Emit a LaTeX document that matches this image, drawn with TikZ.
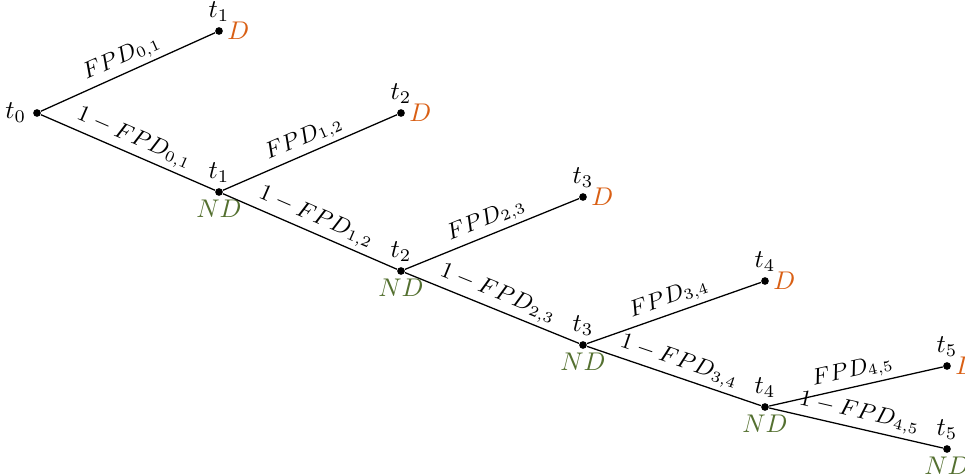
\documentclass[tikz,border=0pt]{standalone}
\usetikzlibrary{positioning}
\definecolor{dorange}{RGB}{217,95,20}
\definecolor{dgreen}{RGB}{84,112,48}
\begin{document}
\begin{tikzpicture}[x=0.3908pt,y=-0.3908pt,
  dot/.style={circle,fill=black,inner sep=0pt,minimum size=3pt},
  tl/.style={label={[label distance=-1.5pt]above:$t_{#1}$}},
  dl/.style={label={[label distance=-2pt,text=dorange]right:$D$}},
  ndl/.style={label={[label distance=-2pt,text=dgreen]below:$ND$}},
  edge/.style={draw,line width=0.5pt},
  elab/.style={midway,sloped,above,inner sep=1.5pt,font=\small}]
\useasboundingbox (0,0) rectangle (965,476);
\node[dot,label={[label distance=-1pt]left:$t_0$}] (n0) at (37,113) {};
\node[dot,tl=1,dl] (d1) at (219,31) {};
\node[dot,tl=1,ndl] (n1) at (219,192) {};
\node[dot,tl=2,dl] (d2) at (401,113) {};
\node[dot,tl=2,ndl] (n2) at (401,271) {};
\node[dot,tl=3,dl] (d3) at (583,197) {};
\node[dot,tl=3,ndl] (n3) at (583,345) {};
\node[dot,tl=4,dl] (d4) at (765,281) {};
\node[dot,tl=4,ndl] (n4) at (765,407) {};
\node[dot,tl=5,dl] (d5) at (947,366) {};
\node[dot,tl=5,ndl] (n5) at (947,449) {};
\path[edge] (n0) -- node[elab] {$FPD_{0,1}$} (d1);
\path[edge] (n0) -- node[elab] {$1-FPD_{0,1}$} (n1);
\path[edge] (n1) -- node[elab] {$FPD_{1,2}$} (d2);
\path[edge] (n1) -- node[elab] {$1-FPD_{1,2}$} (n2);
\path[edge] (n2) -- node[elab] {$FPD_{2,3}$} (d3);
\path[edge] (n2) -- node[elab] {$1-FPD_{2,3}$} (n3);
\path[edge] (n3) -- node[elab] {$FPD_{3,4}$} (d4);
\path[edge] (n3) -- node[elab] {$1-FPD_{3,4}$} (n4);
\path[edge] (n4) -- node[elab] {$FPD_{4,5}$} (d5);
\path[edge] (n4) -- node[elab] {$1-FPD_{4,5}$} (n5);
\end{tikzpicture}
\end{document}
